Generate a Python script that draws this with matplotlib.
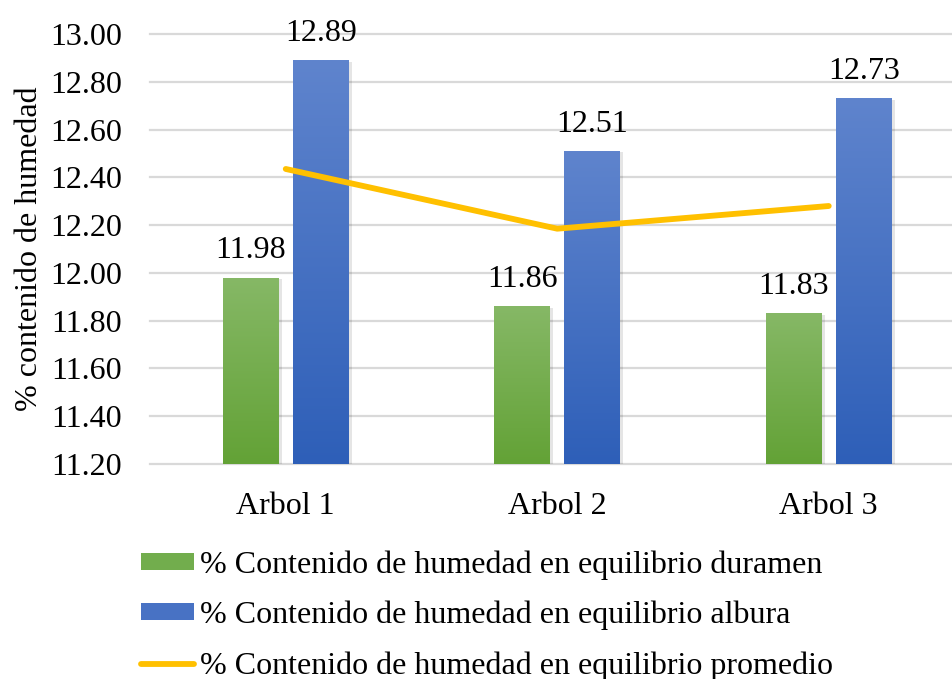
import matplotlib
matplotlib.use("Agg")
import matplotlib.pyplot as plt
import numpy as np
from matplotlib.patches import Patch
from matplotlib.lines import Line2D
from matplotlib.colors import LinearSegmentedColormap

categories = ["Arbol 1", "Arbol 2", "Arbol 3"]
duramen = [11.98, 11.86, 11.83]
albura = [12.89, 12.51, 12.73]
promedio = [12.435, 12.185, 12.28]
yticks = [11.20, 11.40, 11.60, 11.80, 12.00, 12.20, 12.40, 12.60, 12.80, 13.00]
labels = ["% Contenido de humedad en equilibrio duramen",
          "% Contenido de humedad en equilibrio albura",
          "% Contenido de humedad en equilibrio promedio"]

plt.rcParams['font.family'] = ['Liberation Serif', 'DejaVu Serif']
FS = 23

fig = plt.figure(figsize=(9.52, 6.79), dpi=100)
ax = fig.add_axes([150/952, 1 - 464/679, (952-150)/952, (464-34)/679])

x = np.arange(len(categories))
w = 0.206
off = 0.129
ymin, ymax = 11.2, 13.0

green_cm = LinearSegmentedColormap.from_list("g", ["#63a236", "#86b866"])
blue_cm = LinearSegmentedColormap.from_list("b", ["#2e5fb8", "#5f84cd"])

grad = np.linspace(0, 1, 256).reshape(-1, 1)

def grad_bars(xs, vals, cmap):
    bars = ax.bar(xs, [v - ymin for v in vals], width=w, bottom=ymin,
                  color='none', edgecolor='none', zorder=3)
    for b in bars:
        x0, y0 = b.get_x(), b.get_y()
        x1, y1 = x0 + b.get_width(), y0 + b.get_height()
        ax.bar(b.get_x() + b.get_width()/2 + 0.006, b.get_height(), width=w + 0.012,
               bottom=y0 - 0.006, color='#000000', alpha=0.10, edgecolor='none', zorder=2)
        im = ax.imshow(grad, cmap=cmap, extent=[x0, x1, y0, y1], origin='lower',
                       aspect='auto', zorder=3)
        im.set_clip_path(b)
    return bars

grad_bars(x - off, duramen, green_cm)
grad_bars(x + off, albura, blue_cm)

ax.plot(x, promedio, color='#FFC000', lw=4.2, solid_capstyle='round',
        solid_joinstyle='round', zorder=4)

for xi, v in zip(x - off, duramen):
    ax.annotate(f"{v:.2f}", (xi, v), xytext=(0, 9), textcoords='offset points',
                ha='center', va='bottom', fontsize=FS, zorder=5)
for xi, v in zip(x + off, albura):
    ax.annotate(f"{v:.2f}", (xi, v), xytext=(0, 9), textcoords='offset points',
                ha='center', va='bottom', fontsize=FS, zorder=5)

ax.set_xlim(-0.5, 2.454)
ax.set_ylim(ymin, ymax)
ax.set_yticks(yticks)
ax.set_yticklabels([f"{t:.2f}" for t in yticks], fontsize=FS)
ax.set_xticks(x)
ax.set_xticklabels(categories, fontsize=FS)
ax.tick_params(axis='both', length=0)
ax.tick_params(axis='y', pad=20)
ax.tick_params(axis='x', pad=20)
for s in ax.spines.values():
    s.set_visible(False)
ax.yaxis.grid(True, color='#d9d9d9', lw=1.6, zorder=0)
for gl in ax.yaxis.get_gridlines():
    gl.set_clip_on(False)
ax.set_axisbelow(True)
ax.set_ylabel("% contenido de humedad", fontsize=FS)
ax.yaxis.set_label_coords(-0.132, 0.5)

handles = [Patch(facecolor='#72ad4d', edgecolor='none'),
           Patch(facecolor='#4872c4', edgecolor='none'),
           Line2D([0], [0], color='#FFC000', lw=4.2, solid_capstyle='round')]
fig.legend(handles, labels, loc='upper left', bbox_to_anchor=(141/952, 1 - 550/679),
           frameon=False, fontsize=FS, handlelength=1.65, handleheight=0.45,
           handletextpad=0.2, labelspacing=0.66, borderpad=0, borderaxespad=0)

fig.savefig("out.png", dpi=100)
